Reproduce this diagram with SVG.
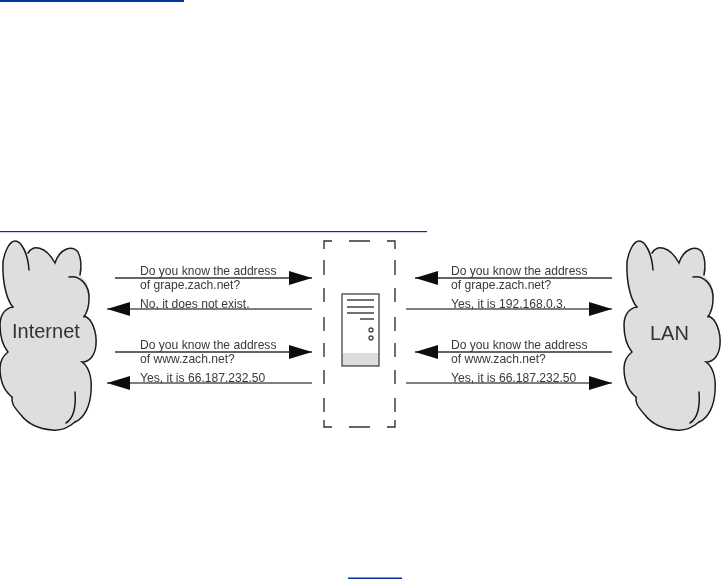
<svg xmlns="http://www.w3.org/2000/svg" width="721" height="579" viewBox="0 0 721 579">
<style>
.link{fill:#00329b}
.t{font-family:"Liberation Sans",Arial,sans-serif;font-size:12.1px;fill:#3a3a3a}
.c{font-family:"Liberation Sans",Arial,sans-serif;font-size:20px;fill:#333}
.a{stroke:#333;stroke-width:1.4;fill:none}
.b{stroke:#555;stroke-width:1.7;fill:none}
.cl{fill:none;stroke:#1c1c1c;stroke-width:1.5;stroke-linecap:round}
.d{fill:none;stroke:#333;stroke-width:1.4}
.s{fill:none;stroke:#444;stroke-width:1.3}
</style>
<defs>
<filter id="soft" x="-5%" y="-5%" width="110%" height="110%"><feGaussianBlur stdDeviation="0.35"/></filter>
<marker id="ah" viewBox="0 0 23 14" refX="23" refY="7" markerWidth="23" markerHeight="14" markerUnits="userSpaceOnUse" orient="auto-start-reverse"><path d="M0 0L23 7L0 14Z" fill="#111"/></marker>
<g id="cloud">
<path d="M13 307C8 302 2 285 3 262C5 250 10 241 15 241C20 241 25 246 28 253C33 245 45 245 55 263C60 248 72 245 78 252C82 260 81 270 80 276C88 280 90 290 89 300C89 305 87 312 84 316C92 318 97 332 96 345C95 355 90 360 86 363C90 368 92 380 91 392C90 405 85 418 75 422C68 428 60 431 52 430C40 429 28 424 21 415C14 407 11 403 12 397C3 390 0 380 0 368C0 362 3 356 8 352C3 346 0 338 0 325C0 315 5 308 13 307Z" fill="#dedede" stroke="none"/>
<path class="cl" d="M13 307C8 302 2 285 3 262C5 250 10 241 15 241C22 241 28 255 29 270"/>
<path class="cl" d="M28 253C33 245 45 245 55 263C60 248 72 245 78 252C82 260 81 270 80 275"/>
<path class="cl" d="M69 277C80 275 90 285 89 300C89 305 87 312 84 317"/>
<path class="cl" d="M84 316C92 318 97 332 96 345C95 355 90 362 82 362C90 368 92 380 91 392C90 405 85 418 75 422"/>
<path class="cl" d="M75 392C76 405 74 418 66 423M75 422C68 428 60 431 52 430C40 429 28 424 21 415C14 407 11 403 12 397"/>
<path class="cl" d="M13 307C5 308 0 315 0 325C0 338 3 346 8 352C3 356 0 362 0 368C0 380 3 390 12 397"/>
</g>
</defs>
<rect width="721" height="579" fill="#fff"/>
<rect class="link" x="0" y="0" width="184" height="2"/>
<rect class="link" x="348" y="577.5" width="54" height="1.5"/>
<rect class="link" x="0" y="231" width="427" height="1.2"/>
<g filter="url(#soft)">
<g id="internet"><use href="#cloud"/><text class="c" x="12" y="337.5">Internet</text></g>
<g id="lan"><use href="#cloud" x="624"/><text class="c" x="650" y="340">LAN</text></g>
<g id="server">
<g id="dashed-boundary"><path class="d" d="M332 241H324V249M349 241H370M387 241H395V249M324 260V275M324 288V302M324 317V331M324 343V357M324 370V384M324 398V412M324 420V427H332M349 427H370M387 427H395V420M395 260V275M395 288V302M395 317V331M395 343V357M395 370V384M395 398V412"/></g>
<rect x="342" y="294" width="37" height="72" fill="#fff"/>
<rect x="342" y="353" width="37" height="13" fill="#dcdcdc"/>
<rect x="342" y="294" width="37" height="72" fill="none" stroke="#444" stroke-width="1.3"/>
<path class="s" d="M347 300H374M347 307H374M347 313H374M360 319H374"/>
<circle class="s" cx="371" cy="330" r="2"/><circle class="s" cx="371" cy="338" r="2"/>
</g>
<g id="connectors">
<path class="a" d="M115 278H312" marker-end="url(#ah)"/>
<path class="b" d="M312 309H107" marker-end="url(#ah)"/>
<path class="a" d="M115 352H312" marker-end="url(#ah)"/>
<path class="b" d="M312 383H107" marker-end="url(#ah)"/>
<path class="a" d="M612 278H415" marker-end="url(#ah)"/>
<path class="b" d="M406 309H612" marker-end="url(#ah)"/>
<path class="a" d="M612 352H415" marker-end="url(#ah)"/>
<path class="b" d="M406 383H612" marker-end="url(#ah)"/>
</g>
<g id="labels">
<text class="t" x="140" y="274.5">Do you know the address</text>
<text class="t" x="140" y="288.5">of grape.zach.net?</text>
<text class="t" x="140" y="307.5">No, it does not exist.</text>
<text class="t" x="140" y="348.5">Do you know the address</text>
<text class="t" x="140" y="362.5">of www.zach.net?</text>
<text class="t" x="140" y="381.5">Yes, it is 66.187.232.50</text>
<text class="t" x="451" y="274.5">Do you know the address</text>
<text class="t" x="451" y="288.5">of grape.zach.net?</text>
<text class="t" x="451" y="307.5">Yes, it is 192.168.0.3.</text>
<text class="t" x="451" y="348.5">Do you know the address</text>
<text class="t" x="451" y="362.5">of www.zach.net?</text>
<text class="t" x="451" y="381.5">Yes, it is 66.187.232.50</text>
</g>
</g>
</svg>
